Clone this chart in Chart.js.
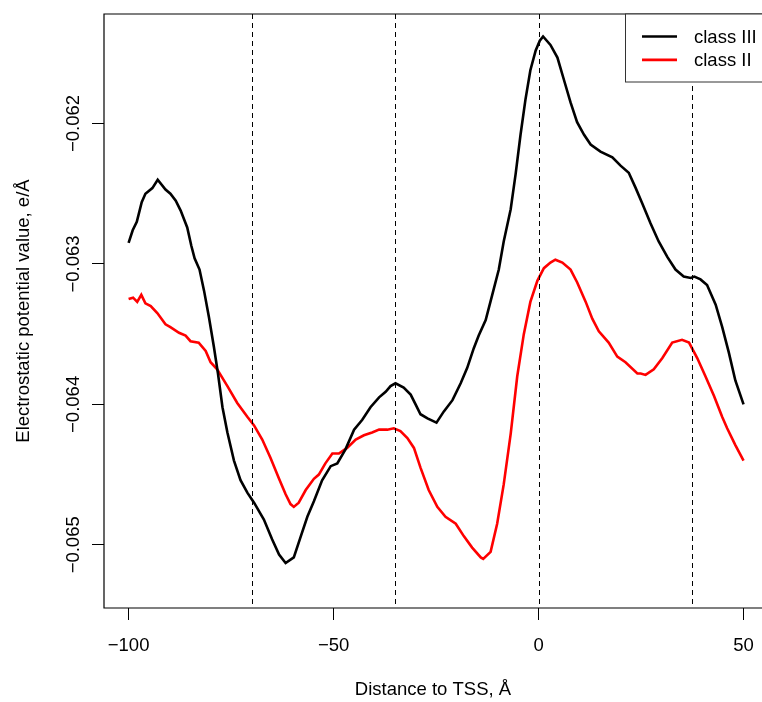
<!doctype html>
<html lang="en">
<head>
<meta charset="utf-8">
<title>Electrostatic potential around TSS</title>
<script src="https://cdn.jsdelivr.net/npm/chart.js@4.4.0/dist/chart.umd.min.js"></script>
<style>
  body { margin: 0; background: #fff; overflow: hidden; }
  canvas { display: block; }
</style>
</head>
<body>
<canvas id="chart" width="762" height="702"></canvas>
<script>
// values
const seriesNames = ['class III', 'class II'];
const seriesColors = ['#000000', '#ff0000'];

const classIIIx = [-100,-99,-98,-96.8,-95.9,-94.2,-92.9,-91,-89.8,-88.5,-87.3,-85.7,-84.7,-83.9,-82.7,-81.6,-80.4,-79.2,-78.2,-77.1,-75.9,-74.3,-72.7,-71,-69.4,-67,-65,-63.3,-61.7,-59.7,-58,-56.4,-54.8,-52.8,-50.7,-49.1,-47.1,-45,-43,-41,-38.9,-37.3,-36.1,-34.9,-32.9,-31.2,-30,-28.8,-27.1,-24.9,-23.1,-21,-19,-17.4,-15.8,-14.6,-12.9,-11.3,-9.7,-8.5,-6.8,-5.6,-4.4,-3.2,-2,-0.7,0.3,1.1,2.9,4.6,6.2,7.8,9.4,11.1,12.7,15.1,18,20,22,23.7,25.3,27.3,29.3,31.4,33.4,35.4,37.1,38,39.5,41.1,43.2,44.8,46.4,48,50];
const classIIIy = [-0.06285,-0.06276,-0.06270,-0.06256,-0.06250,-0.06246,-0.06240,-0.06247,-0.06250,-0.06255,-0.06262,-0.06274,-0.06287,-0.06296,-0.06304,-0.06319,-0.06338,-0.06359,-0.06378,-0.06402,-0.06420,-0.06440,-0.06454,-0.06463,-0.06470,-0.06482,-0.06496,-0.06507,-0.06513,-0.06509,-0.06494,-0.06480,-0.06469,-0.06454,-0.06444,-0.06442,-0.06432,-0.06418,-0.06411,-0.06402,-0.06395,-0.06391,-0.06387,-0.06385,-0.06388,-0.06393,-0.06400,-0.06407,-0.06410,-0.06413,-0.06405,-0.06397,-0.06385,-0.06374,-0.06360,-0.06351,-0.06340,-0.06322,-0.06304,-0.06284,-0.06261,-0.06236,-0.06208,-0.06183,-0.06162,-0.06148,-0.06141,-0.06138,-0.06144,-0.06153,-0.06169,-0.06185,-0.06199,-0.06208,-0.06215,-0.06220,-0.06224,-0.06230,-0.06235,-0.06246,-0.06257,-0.06271,-0.06284,-0.06295,-0.06304,-0.06309,-0.06310,-0.06309,-0.06311,-0.06315,-0.06329,-0.06345,-0.06363,-0.06383,-0.06400];

const classIIx = [-100,-98.9,-97.9,-96.9,-95.9,-94.6,-93,-91,-89.8,-87.7,-86.1,-84.9,-82.9,-81.2,-80,-78.4,-75.9,-73.5,-71,-69.4,-67.4,-65.4,-63.3,-61.7,-60.5,-59.7,-58.5,-56.8,-54.8,-53.6,-52,-50.3,-48.7,-46.7,-44.6,-42.6,-40.6,-38.9,-36.9,-35.3,-33.7,-32,-30.4,-28.8,-26.8,-24.7,-22.7,-20.2,-18.2,-16.2,-14.1,-13.5,-11.7,-10.1,-8.5,-6.8,-5.2,-3.6,-2,-0.3,1.3,2.9,4.1,5.8,7.8,9.4,11.5,13.1,14.7,17.1,19.2,21.2,24.1,24.9,26.1,28.1,30.2,32.6,35,36.7,38.7,40.7,42.8,44.8,46,48,50];
const classIIy = [-0.06325,-0.06324,-0.06327,-0.06322,-0.06328,-0.06330,-0.06335,-0.06343,-0.06345,-0.06349,-0.06351,-0.06355,-0.06356,-0.06362,-0.06370,-0.06375,-0.06387,-0.06399,-0.06409,-0.06415,-0.06425,-0.06438,-0.06453,-0.06464,-0.06471,-0.06473,-0.06470,-0.06461,-0.06453,-0.06450,-0.06442,-0.06435,-0.06435,-0.06431,-0.06425,-0.06422,-0.06420,-0.06418,-0.06418,-0.06417,-0.06419,-0.06424,-0.06431,-0.06445,-0.06461,-0.06473,-0.06480,-0.06485,-0.06494,-0.06502,-0.06509,-0.06510,-0.06505,-0.06485,-0.06457,-0.06421,-0.06380,-0.06350,-0.06327,-0.06312,-0.06303,-0.06299,-0.06297,-0.06299,-0.06304,-0.06313,-0.06327,-0.06339,-0.06348,-0.06356,-0.06366,-0.06370,-0.06378,-0.06378,-0.06379,-0.06375,-0.06367,-0.06356,-0.06354,-0.06356,-0.06367,-0.06380,-0.06394,-0.06409,-0.06417,-0.06429,-0.06440];

// vertical reference lines (abline v=...)
const markers = [-70, -35, 0, 37.5];

const xTicks = [-100, -50, 0, 50];
const yTicks = [-0.065, -0.064, -0.063, -0.062];

const FAMILY = '"Liberation Sans", Arial, Helvetica, sans-serif';
const FSIZE = 18.5;
const font = { family: FAMILY, size: FSIZE };

function minus(v, digits) {
  const s = digits == null ? String(Math.abs(v)) : Math.abs(v).toFixed(digits);
  return v < 0 ? '\u2212' + s : s;
}

function toPoints(xs, ys) {
  return xs.map((x, i) => ({ x: x, y: ys[i] }));
}

// R base-graphics look: box, dashed ablines, rotated y labels, legend
const rPlot = {
  id: 'rPlot',
  afterDatasetsDraw(chart) {
    const { ctx, chartArea: a, scales: { x } } = chart;
    ctx.save();
    ctx.strokeStyle = '#000';
    ctx.lineWidth = 1;
    ctx.setLineDash([5, 4]);
    markers.forEach(m => {
      const px = Math.round(x.getPixelForValue(m)) + 0.5;
      ctx.beginPath();
      ctx.moveTo(px, a.top);
      ctx.lineTo(px, a.bottom);
      ctx.stroke();
    });
    ctx.restore();
  },
  afterDraw(chart) {
    const { ctx, chartArea: a, scales: { y } } = chart;
    ctx.save();
    // plot box (right side falls outside the picture)
    ctx.strokeStyle = '#000';
    ctx.lineWidth = 1.2;
    ctx.beginPath();
    ctx.moveTo(a.right + 10, a.top);
    ctx.lineTo(a.left, a.top);
    ctx.lineTo(a.left, a.bottom);
    ctx.lineTo(a.right + 10, a.bottom);
    ctx.stroke();

    // y tick labels, parallel to the axis
    ctx.fillStyle = '#000';
    ctx.font = FSIZE + 'px ' + FAMILY;
    ctx.textAlign = 'center';
    ctx.textBaseline = 'alphabetic';
    yTicks.forEach(v => {
      const py = y.getPixelForValue(v);
      ctx.save();
      ctx.translate(78.5, py);
      ctx.rotate(-Math.PI / 2);
      ctx.fillText(minus(v, 3), 0, 0);
      ctx.restore();
    });

    // legend, top right
    const lx = 625.5, ly = a.top, lh = 68;
    ctx.fillStyle = '#fff';
    ctx.fillRect(lx, ly, a.right - lx + 10, lh);
    ctx.strokeStyle = '#333';
    ctx.lineWidth = 1;
    ctx.strokeRect(lx, ly, a.right - lx + 10, lh);
    chart.data.datasets.forEach((ds, i) => {
      const yy = ly + 22.5 + i * 23.3;
      ctx.strokeStyle = ds.borderColor;
      ctx.lineWidth = 2.7;
      ctx.beginPath();
      ctx.moveTo(642, yy);
      ctx.lineTo(677, yy);
      ctx.stroke();
      ctx.fillStyle = '#000';
      ctx.textAlign = 'left';
      ctx.fillText(ds.label, 694, yy + 6.6);
    });
    ctx.restore();
  }
};

const tickGrid = { drawOnChartArea: false, drawTicks: true, tickLength: 12, color: '#000', lineWidth: 1 };

new Chart(document.getElementById('chart').getContext('2d'), {
  type: 'line',
  data: {
    datasets: [
      { label: seriesNames[0], data: toPoints(classIIIx, classIIIy), borderColor: seriesColors[0], borderWidth: 2.6, pointRadius: 0, tension: 0, fill: false },
      { label: seriesNames[1], data: toPoints(classIIx, classIIy), borderColor: seriesColors[1], borderWidth: 2.6, pointRadius: 0, tension: 0, fill: false }
    ]
  },
  options: {
    responsive: false,
    animation: false,
    devicePixelRatio: 1,
    layout: { padding: { top: 14, left: 0, right: 0, bottom: 0 } },
    plugins: { legend: { display: false }, tooltip: { enabled: false } },
    scales: {
      x: {
        type: 'linear', min: -106, max: 54.5,
        afterBuildTicks: s => { s.ticks = xTicks.map(v => ({ value: v })); },
        afterFit: s => { s.height = 94; s.paddingLeft = 0; s.paddingRight = 0; },
        grid: tickGrid,
        border: { display: false },
        ticks: { color: '#000', font: font, padding: 15, maxRotation: 0, autoSkip: false, callback: v => minus(v) },
        title: { display: true, text: 'Distance to TSS, Å', color: '#000', font: font, padding: { top: 0, bottom: 1 } }
      },
      y: {
        type: 'linear', min: -0.06545, max: -0.06122,
        afterBuildTicks: s => { s.ticks = yTicks.map(v => ({ value: v })); },
        afterFit: s => { s.width = 104; s.paddingTop = 0; s.paddingBottom = 0; },
        grid: tickGrid,
        border: { display: false },
        ticks: { display: false },
        title: { display: true, text: 'Electrostatic potential value, e/Å', color: '#000', font: font, padding: { top: 13, bottom: 0 } }
      }
    }
  },
  plugins: [rPlot]
});
</script>
</body>
</html>
